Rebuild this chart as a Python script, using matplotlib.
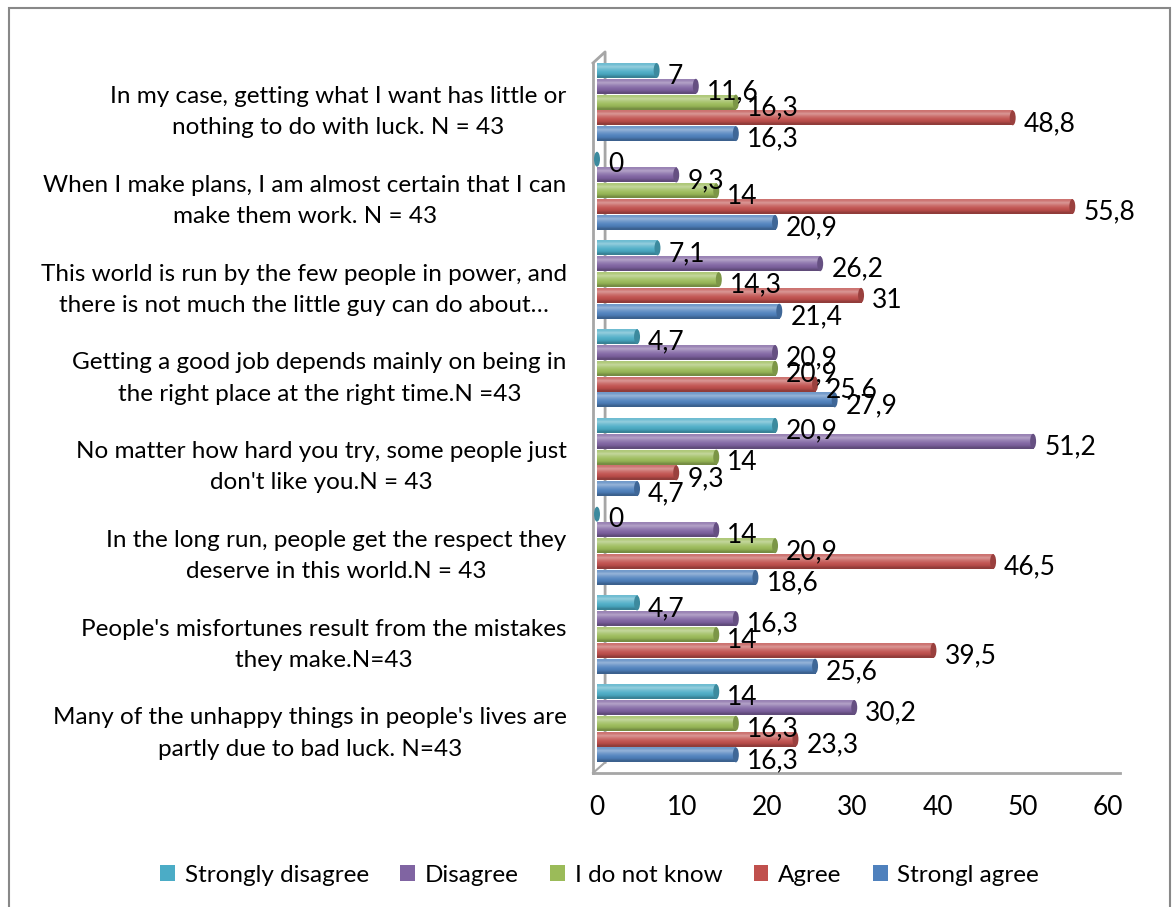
import numpy as np
import matplotlib
matplotlib.use("Agg")
import matplotlib.pyplot as plt
from matplotlib.patches import Rectangle, Ellipse
from matplotlib.colors import to_rgb

plt.rcParams['font.family'] = ['Lato', 'DejaVu Sans']

# Statements (top to bottom) and answers per series
categories = [
    "In my case, getting what I want has little or\nnothing to do with luck. N = 43",
    "When I make plans, I am almost certain that I can\nmake them work. N = 43",
    "This world is run by the few people in power, and\nthere is not much the little guy can do about…",
    "Getting a good job depends mainly on being in\nthe right place at the right time.N =43",
    "No matter how hard you try, some people just\ndon't like you.N = 43",
    "In the long run, people get the respect they\ndeserve in this world.N = 43",
    "People's misfortunes result from the mistakes\nthey make.N=43",
    "Many of the unhappy things in people's lives are\npartly due to bad luck. N=43",
]
series_names = ["Strongly disagree", "Disagree", "I do not know", "Agree", "Strongl agree"]
strongly_disagree = [7, 0, 7.1, 4.7, 20.9, 0, 4.7, 14]
disagree = [11.6, 9.3, 26.2, 20.9, 51.2, 14, 16.3, 30.2]
do_not_know = [16.3, 14, 14.3, 20.9, 14, 20.9, 14, 16.3]
agree = [48.8, 55.8, 31, 25.6, 9.3, 46.5, 39.5, 23.3]
strongly_agree = [16.3, 20.9, 21.4, 27.9, 4.7, 18.6, 25.6, 16.3]
x_ticks = [0, 10, 20, 30, 40, 50, 60]

series = [strongly_disagree, disagree, do_not_know, agree, strongly_agree]
colors = ["#4BACC6", "#8064A2", "#9BBB59", "#C0504D", "#4F81BD"]

FS = 17.5   # category labels / legend
VFS = 19    # value labels / ticks
fig = plt.figure(figsize=(11.76, 9.07), dpi=100)
ax = fig.add_axes([593 / 1176, 1 - 773 / 907, 527 / 1176, 710 / 907])

pitch = 0.178
h = 0.168


def shade(c, f):
    c = np.array(to_rgb(c))
    if f > 0:
        return c + (1 - c) * f
    return c * (1 + f)


for j, (vals, col) in enumerate(zip(series, colors)):
    grad = np.array([shade(col, 0.2), shade(col, 0.4), shade(col, 0.2),
                     shade(col, 0.05), shade(col, -0.05), shade(col, -0.25)])
    grad = grad[:, None, :]
    for i, v in enumerate(vals):
        y = i + (j - 2) * pitch
        if v > 0:
            ax.imshow(grad, extent=(0, v, y + h / 2, y - h / 2), aspect='auto',
                      interpolation='bilinear', origin='upper', zorder=2)
        ax.add_patch(Ellipse((v, y), 0.7, h, facecolor=shade(col, -0.2),
                             edgecolor='none', zorder=3))
        ax.annotate(f"{v:g}".replace('.', ','), xy=(v, y), xytext=(8, -4),
                    textcoords='offset points', ha='left', va='center',
                    fontsize=VFS, color='black', zorder=4)

ax.set_xlim(-0.47, 61.4)
ax.set_ylim(7.56, -0.44)
ax.set_xticks(x_ticks)
ax.set_xticklabels([str(t) for t in x_ticks], fontsize=VFS)
ax.set_yticks(np.arange(len(categories)) + 0.035)
ax.set_yticklabels(categories, fontsize=FS)
for lab in ax.get_yticklabels():
    lab.set_multialignment('center')
    lab.set_linespacing(1.6)
ax.tick_params(axis='both', length=0)
ax.tick_params(axis='y', pad=19)
ax.tick_params(axis='x', pad=16)

# 3D wall/floor outline
wall = '#a6a6a6'
for s in ['top', 'right']:
    ax.spines[s].set_visible(False)
for s in ['left', 'bottom']:
    ax.spines[s].set_color(wall)
    ax.spines[s].set_linewidth(2)
ax.plot([-0.47, 0.95, 0.95], [-0.44, -0.565, 7.44], color=wall, lw=2,
        clip_on=False, zorder=1)
ax.plot([-0.47, 0.95], [7.56, 7.44], color=wall, lw=1.5, clip_on=False, zorder=1)

# legend
handles = [Rectangle((0, 0), 1, 1, facecolor=c) for c in colors]
fig.legend(handles, series_names, loc='center', bbox_to_anchor=(0.51, 1 - 875 / 907),
           ncol=5, frameon=False, fontsize=FS, handlelength=0.6, handleheight=0.6,
           handletextpad=0.4, columnspacing=1.3)

# outer border
fig.patches.append(Rectangle((9 / 1176, -0.01), 1161 / 1176, 1 - 8 / 907 + 0.01,
                             transform=fig.transFigure, fill=False,
                             edgecolor='#888888', lw=1.5))

fig.savefig("out.png", dpi=100)
